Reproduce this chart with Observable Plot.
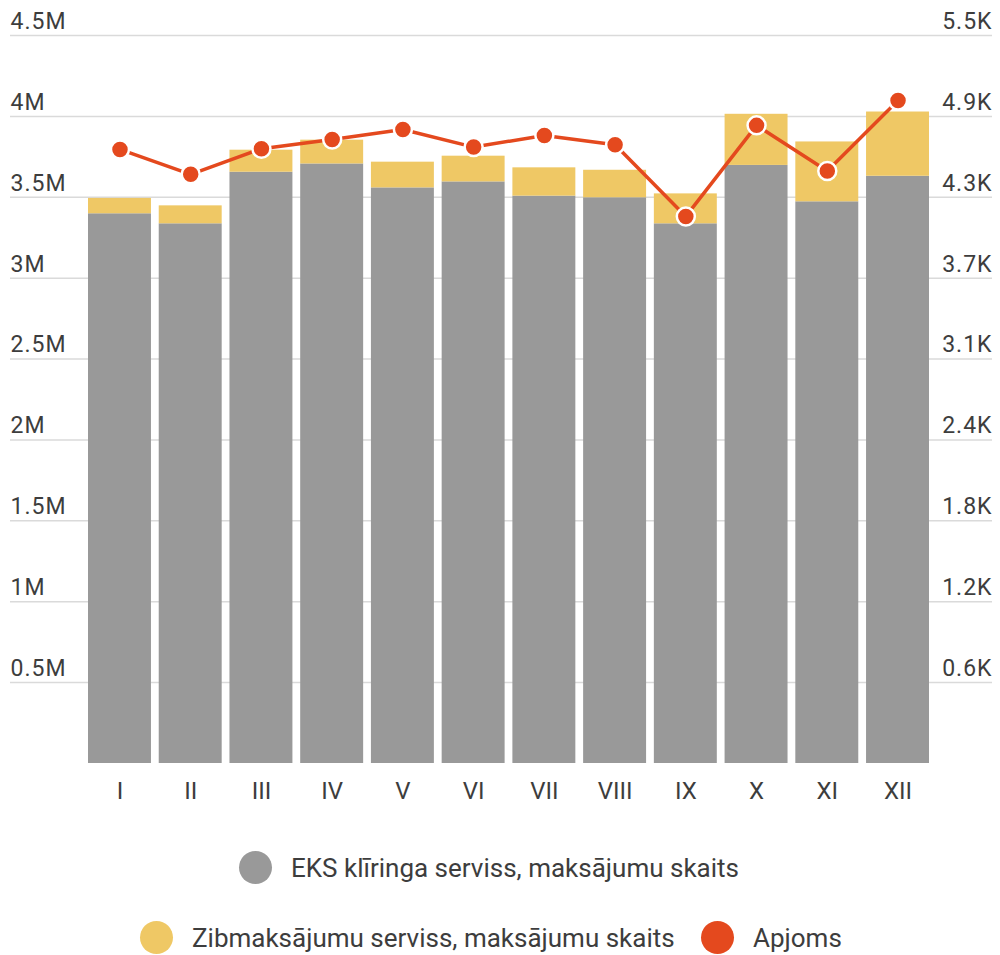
<!DOCTYPE html>
<html>
<head>
<meta charset="utf-8">
<script src="https://cdn.jsdelivr.net/npm/d3@7"></script>
<script src="https://cdn.jsdelivr.net/npm/@observablehq/plot@0.6"></script>
<style>
  html, body { margin: 0; padding: 0; background: #fff; }
  body { width: 1000px; font-family: Roboto, "Noto Sans", sans-serif; }
  #legend { position: relative; width: 1000px; height: 145px; color: #3d3d3d; font-size: 26px; }
  .item { position: absolute; display: flex; align-items: center; white-space: nowrap; }
  .sw { width: 33px; height: 33px; border-radius: 50%; margin-right: 19px; flex: none; }
</style>
</head>
<body>
<div id="chart"></div>
<div id="legend"></div>
<script>
const months = ["I","II","III","IV","V","VI","VII","VIII","IX","X","XI","XII"];
const eksCount = [3398000, 3336000, 3655000, 3706000, 3558000, 3595000, 3507000, 3497000, 3336000, 3697000, 3472000, 3630000];
const zibCount = [95000, 111000, 136000, 147000, 159000, 159000, 175000, 170000, 185000, 316000, 370000, 397000];
const apjoms = [4639, 4451, 4645, 4715, 4790, 4657, 4745, 4675, 4133, 4821, 4476, 5009];
const seriesNames = ["EKS klīringa serviss, maksājumu skaits", "Zibmaksājumu serviss, maksājumu skaits", "Apjoms"];
const leftTicks = [500000, 1000000, 1500000, 2000000, 2500000, 3000000, 3500000, 4000000, 4500000];
const leftMax = 4500000;
const rightMax = 5500;

const colors = ["#999999", "#EFC865", "#E4491E"];

const stacked = months.flatMap((m, i) => [
  {month: m, series: seriesNames[0], value: eksCount[i]},
  {month: m, series: seriesNames[1], value: zibCount[i]}
]);
const lineData = months.map((m, i) => ({month: m, value: apjoms[i]}));
const toLeft = v => v / rightMax * leftMax;

const chart = Plot.plot({
  width: 1000,
  height: 810,
  marginTop: 35,
  marginBottom: 47,
  marginLeft: 10,
  marginRight: 8,
  style: {fontFamily: "Roboto, sans-serif", color: "#3d3d3d", background: "#fff", overflow: "visible"},
  x: {domain: months, range: [88, 929], paddingInner: 0.11, paddingOuter: 0, round: false, label: null},
  y: {domain: [0, leftMax], label: null},
  color: {domain: seriesNames.slice(0, 2), range: colors.slice(0, 2)},
  marks: [
    Plot.gridY(leftTicks, {stroke: "#dadada", strokeOpacity: 1, strokeWidth: 1.5}),
    Plot.barY(stacked, {x: "month", y: "value", fill: "series"}),
    Plot.axisY(leftTicks, {anchor: "left", tickSize: 0, tickPadding: 0, textAnchor: "start", dy: -14,
      fontSize: 23, fill: "#3d3d3d", tickFormat: d => (d / 1e6) + "M", label: null}),
    Plot.axisY(leftTicks, {anchor: "right", tickSize: 0, tickPadding: 0, textAnchor: "end", dy: -14,
      fontSize: 23, fill: "#3d3d3d", tickFormat: d => (d / leftMax * rightMax / 1000).toFixed(1) + "K", label: null}),
    Plot.axisX({tickSize: 0, tickPadding: 18, fontSize: 24, fill: "#3d3d3d", label: null}),
    Plot.line(lineData, {x: "month", y: d => toLeft(d.value), stroke: colors[2], strokeWidth: 3.5}),
    Plot.dot(lineData, {x: "month", y: d => toLeft(d.value), r: 9, fill: colors[2], stroke: "#fff", strokeWidth: 2.5})
  ]
});
chart.querySelectorAll("g[aria-label='y-axis tick label'] text").forEach(t => t.style.letterSpacing = "1px");
document.getElementById("chart").appendChild(chart);

const legend = document.getElementById("legend");
const items = [
  {name: seriesNames[0], color: colors[0], left: 239, top: 41},
  {name: seriesNames[1], color: colors[1], left: 140, top: 111},
  {name: seriesNames[2], color: colors[2], left: 701, top: 111}
];
for (const it of items) {
  const el = document.createElement("div");
  el.className = "item";
  el.style.left = it.left + "px";
  el.style.top = it.top + "px";
  const sw = document.createElement("span");
  sw.className = "sw";
  sw.style.background = it.color;
  const tx = document.createElement("span");
  tx.textContent = it.name;
  el.appendChild(sw);
  el.appendChild(tx);
  legend.appendChild(el);
}
</script>
</body>
</html>
